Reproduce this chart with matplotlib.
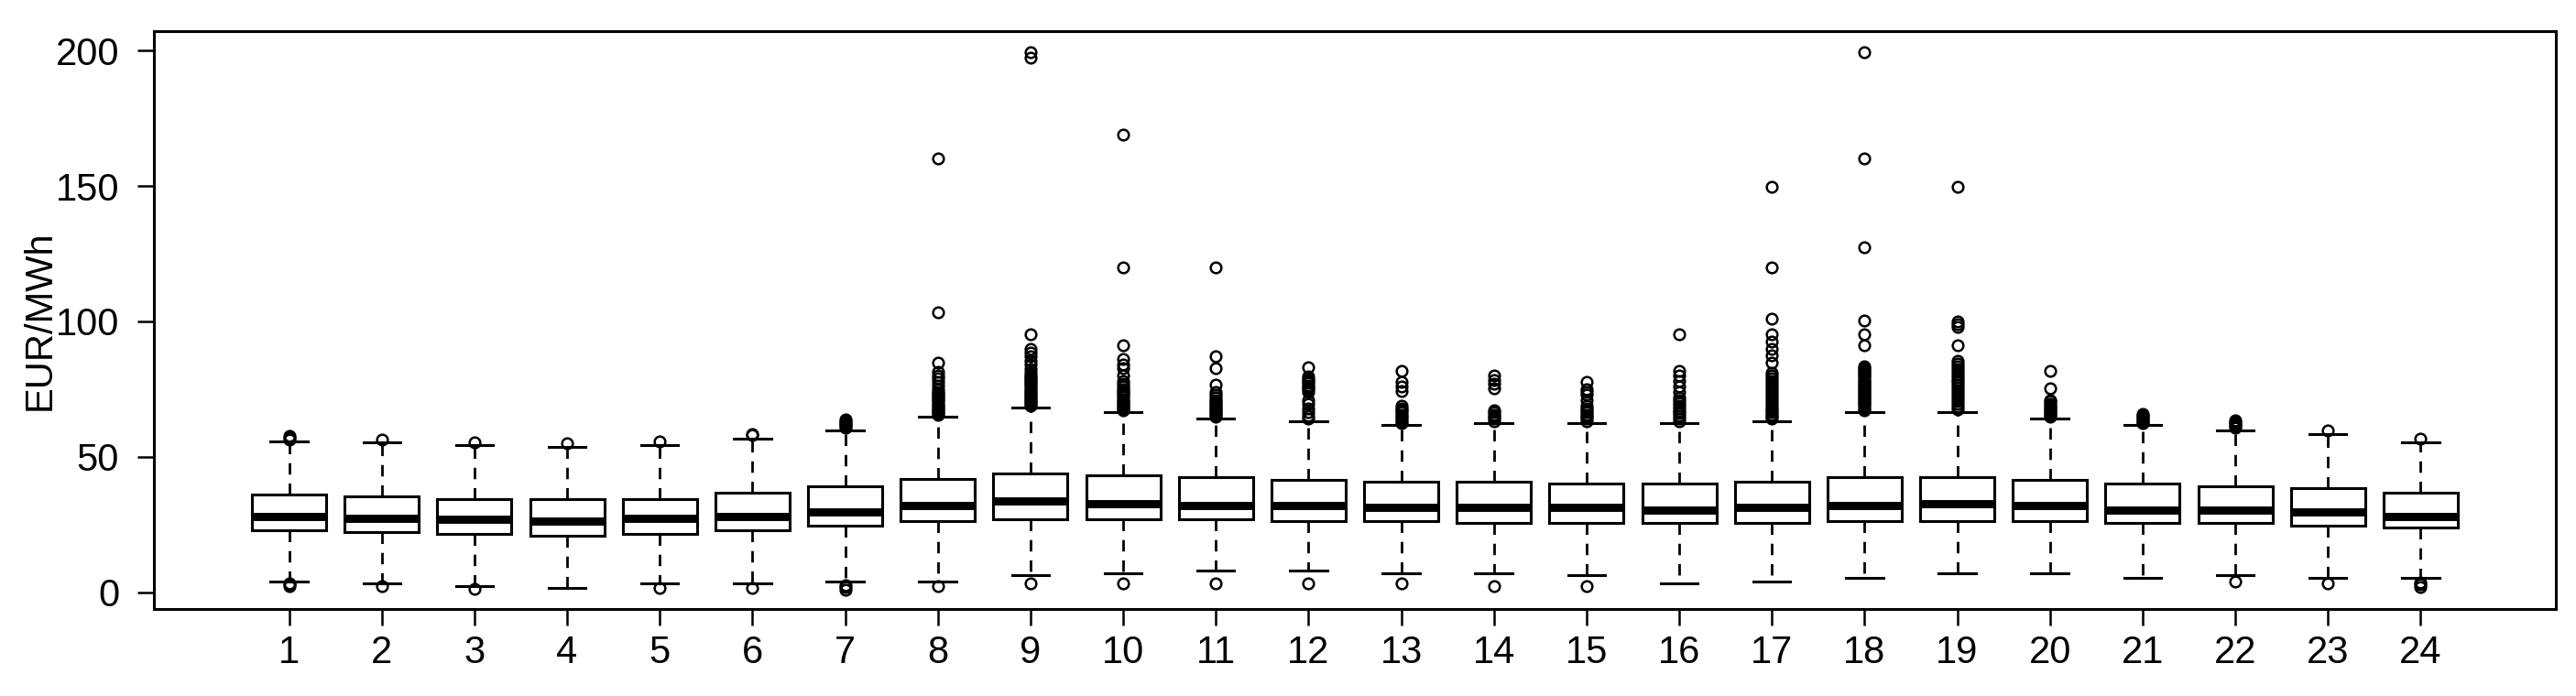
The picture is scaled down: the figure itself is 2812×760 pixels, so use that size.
import numpy as np
import matplotlib.pyplot as plt

plt.rcParams['font.family'] = ['Liberation Sans', 'DejaVu Sans']

# hours on the x axis
hours = list(range(1, 25))

# box statistics (EUR/MWh)
q1 = [23.0, 22.2, 21.5, 20.7, 21.5, 23.0, 24.6, 26.3, 27.1, 27.1, 27.1, 26.3,
      26.3, 25.5, 25.5, 25.5, 25.5, 26.3, 26.3, 26.3, 25.5, 25.5, 24.6, 23.8]
med = [28.1, 27.3, 27.1, 26.4, 27.3, 28.1, 29.7, 32.0, 33.7, 32.8, 32.0, 32.0,
       31.2, 31.2, 31.2, 30.4, 31.2, 32.0, 32.8, 32.0, 30.4, 30.4, 29.7, 28.1]
q3 = [36.1, 35.3, 34.5, 34.5, 34.5, 36.8, 39.2, 41.7, 44.0, 43.2, 42.4, 41.5,
      40.9, 40.9, 40.1, 40.1, 40.9, 42.4, 42.4, 41.5, 40.1, 39.2, 38.4, 36.8]
whis_lo = [3.9, 3.1, 2.3, 1.6, 3.1, 3.1, 3.9, 3.9, 6.2, 7.1, 7.9, 7.9,
           7.1, 7.1, 6.2, 3.1, 3.9, 5.4, 7.1, 7.1, 5.4, 6.2, 5.4, 5.4]
whis_hi = [55.8, 55.2, 54.4, 53.5, 54.4, 56.8, 59.9, 64.9, 68.1, 66.5, 64.0, 63.2,
           61.6, 62.4, 62.4, 62.4, 63.2, 66.5, 66.5, 64.0, 61.6, 59.9, 58.3, 55.2]

# outliers per hour
fliers = [
    [2.2, 2.8, 3.3, 56.5, 57.2, 57.8],
    [2.1, 56.3],
    [1.3, 55.5],
    [55.0],
    [1.6, 55.8],
    [1.6, 58.0, 58.4],
    [1.0, 1.8, 2.6, 60.8, 61.5, 62.0, 62.6, 63.2, 63.7],
    [2.1, 65.5, 66.2, 66.9, 67.6, 68.3, 69.0, 69.7, 70.4, 71.1, 71.8, 72.5, 73.2,
     74.0, 75.0, 76.2, 77.5, 79.0, 80.0, 81.5, 84.9, 103.3, 160.1],
    [3.1, 68.8, 69.5, 70.2, 70.9, 71.6, 72.3, 73.0, 73.7, 74.4, 75.1, 75.8, 76.5,
     77.2, 77.9, 78.6, 79.3, 80.0, 81.0, 82.5, 84.0, 85.5, 87.0, 88.5, 90.0,
     95.2, 197.5, 199.5],
    [3.1, 67.2, 67.9, 68.6, 69.3, 70.0, 70.7, 71.4, 72.1, 72.8, 73.5, 74.2, 75.0,
     76.0, 77.0, 78.0, 80.0, 82.6, 84.0, 86.0, 91.1, 120.0, 169.0],
    [3.1, 64.7, 65.4, 66.1, 66.8, 67.5, 68.2, 68.9, 69.6, 70.3, 71.0, 72.0, 73.0,
     74.0, 76.8, 82.6, 87.2, 120.0],
    [3.1, 64.0, 65.0, 66.5, 68.0, 69.5, 71.0, 74.0, 74.8, 75.6, 76.4, 77.2, 78.0,
     78.8, 79.6, 83.1],
    [3.1, 62.4, 63.2, 64.0, 64.8, 65.6, 66.4, 67.2, 68.0, 69.0, 74.4, 76.0, 77.7, 81.8],
    [2.3, 63.2, 64.0, 64.8, 65.6, 66.4, 67.2, 75.2, 77.0, 78.5, 80.1],
    [2.3, 63.2, 64.0, 64.8, 65.6, 66.4, 67.2, 68.0, 69.0, 71.0, 73.0, 74.0, 75.0, 77.7],
    [63.2, 64.0, 65.0, 66.0, 67.0, 68.0, 69.0, 70.0, 71.0, 72.0, 74.0, 76.0, 78.0,
     80.0, 81.8, 95.4],
    [64.0, 64.8, 65.6, 66.4, 67.2, 68.0, 69.0, 70.0, 71.0, 72.0, 73.0, 74.0, 75.0,
     76.0, 77.0, 78.0, 79.0, 80.0, 81.0, 84.7, 87.5, 89.7, 92.4, 95.4, 101.0,
     120.0, 149.8],
    [67.3, 68.0, 68.7, 69.4, 70.1, 70.8, 71.5, 72.2, 72.9, 73.6, 74.3, 75.0, 75.7,
     76.4, 77.1, 77.8, 78.5, 79.2, 79.9, 80.6, 81.3, 82.0, 82.7, 83.4, 91.1, 95.4,
     100.3, 127.4, 160.1, 199.3],
    [67.5, 68.5, 69.5, 70.5, 71.5, 72.5, 73.5, 74.5, 75.5, 76.5, 77.5, 78.5, 79.5,
     80.5, 81.5, 82.5, 83.5, 84.5, 85.5, 91.1, 98.0, 99.0, 100.0, 149.8],
    [64.8, 65.5, 66.2, 66.9, 67.6, 68.3, 69.0, 69.7, 70.4, 71.0, 75.2, 81.8],
    [62.3, 62.9, 63.5, 64.1, 64.7, 65.3, 65.8],
    [3.9, 60.6, 61.3, 62.0, 62.7, 63.4],
    [3.1, 59.9],
    [2.0, 2.8, 3.6, 56.6],
]

y_ticks = [0, 50, 100, 150, 200]

stats = []
for i in range(len(hours)):
    stats.append({'med': med[i], 'q1': q1[i], 'q3': q3[i],
                  'whislo': whis_lo[i], 'whishi': whis_hi[i],
                  'fliers': np.array(fliers[i]), 'label': str(hours[i])})

fig = plt.figure(figsize=(14.06, 3.8), dpi=200)
ax = fig.add_axes([0.0597, 0.125, 0.9325, 0.830])

ax.bxp(stats, positions=hours, widths=0.8, capwidths=0.4, patch_artist=True,
       boxprops=dict(facecolor='white', edgecolor='black', linewidth=1.1),
       medianprops=dict(color='black', linewidth=3.2, solid_capstyle='butt'),
       whiskerprops=dict(color='black', linewidth=1.0, linestyle=(0, (4.5, 3.5))),
       capprops=dict(color='black', linewidth=1.1),
       flierprops=dict(marker='o', markersize=4.2, markerfacecolor='none',
                       markeredgecolor='black', markeredgewidth=0.9))

ax.set_xlim(-0.46, 25.46)
ax.set_ylim(-6.2, 207.1)
ax.set_xticks(hours)
ax.set_xticklabels([str(h) for h in hours])
ax.set_yticks(y_ticks)
ax.set_yticklabels([str(v) for v in y_ticks])
ax.tick_params(axis='both', direction='out', length=6.6, width=0.9,
               labelsize=15, colors='black')
ax.tick_params(axis='x', pad=3.5)
ax.tick_params(axis='y', pad=7)
ax.set_ylabel('EUR/MWh', fontsize=15, labelpad=-1)
for sp in ax.spines.values():
    sp.set_linewidth(1.1)

fig.savefig('out.png', dpi=200)
